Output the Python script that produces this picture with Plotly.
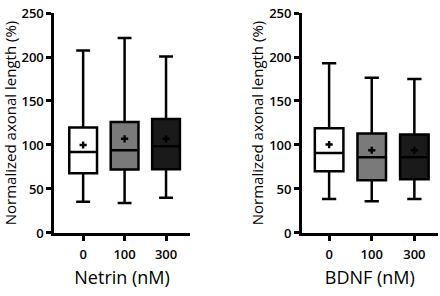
import plotly.graph_objects as go

categories = ["0", "100", "300"]
fills = ["#ffffff", "#7a7a7a", "#1a1a1a"]

netrin_lower = [35.5, 34, 40]
netrin_q1 = [68, 72, 72.5]
netrin_median = [92, 94, 98.5]
netrin_q3 = [120, 126, 129.5]
netrin_upper = [207.5, 221.5, 200.5]
netrin_mean = [100, 107, 107]

bdnf_lower = [38.5, 36, 38.5]
bdnf_q1 = [70, 60, 61]
bdnf_median = [91, 86, 86]
bdnf_q3 = [119, 113, 112]
bdnf_upper = [193, 176.5, 175]
bdnf_mean = [100.5, 94, 94]

yticks = [0, 50, 100, 150, 200, 250]

fig = go.Figure()

panels = [
    ("x", "y", netrin_lower, netrin_q1, netrin_median, netrin_q3, netrin_upper, netrin_mean),
    ("x2", "y2", bdnf_lower, bdnf_q1, bdnf_median, bdnf_q3, bdnf_upper, bdnf_mean),
]

for xa, ya, lo, q1, med, q3, up, mean in panels:
    for i, c in enumerate(categories):
        fig.add_trace(go.Box(
            x=[c], q1=[q1[i]], median=[med[i]], q3=[q3[i]],
            lowerfence=[lo[i]], upperfence=[up[i]],
            fillcolor=fills[i], line=dict(color="black", width=2.5),
            whiskerwidth=0.5, width=0.67, boxpoints=False,
            xaxis=xa, yaxis=ya, showlegend=False, hoverinfo="skip",
        ))
    fig.add_trace(go.Scatter(
        x=categories, y=mean, mode="markers",
        marker=dict(symbol="cross", size=6, color="black"),
        xaxis=xa, yaxis=ya, showlegend=False, hoverinfo="skip",
    ))

font_family = "Open Sans, Liberation Sans, sans-serif"
axis_common = dict(
    showline=True, linecolor="black", linewidth=2.5,
    ticks="outside", ticklen=5, tickwidth=2.5, tickcolor="black",
    showgrid=False, zeroline=False, automargin=False,
    tickfont=dict(family=font_family, size=13, color="black", weight=600),
)

yaxis_common = dict(axis_common, range=[0, 250], tickvals=yticks,
                    title=dict(text="Normalized axonal length (%)",
                               font=dict(family=font_family, size=15, color="black"),
                               standoff=2))

xtitle_font = dict(family=font_family, size=18, color="black")

fig.update_layout(
    width=440, height=296,
    margin=dict(l=0, r=0, t=0, b=0),
    paper_bgcolor="white", plot_bgcolor="white",
    xaxis=dict(axis_common, domain=[0.123, 0.432], anchor="y",
               type="category", range=[-0.7, 2.58], ticklabelstandoff=3,
               title=dict(text="Netrin (nM)", font=xtitle_font, standoff=10)),
    yaxis=dict(yaxis_common, domain=[0.213, 0.956], anchor="x"),
    xaxis2=dict(axis_common, domain=[0.686, 0.995], anchor="y2",
                type="category", range=[-0.64, 2.55], ticklabelstandoff=3,
                title=dict(text="BDNF (nM)", font=xtitle_font, standoff=10)),
    yaxis2=dict(yaxis_common, domain=[0.213, 0.956], anchor="x2"),
)

fig.write_html("out.html", config={"displayModeBar": False},
               post_script="document.body.style.margin='0px';document.body.style.overflow='hidden';")
